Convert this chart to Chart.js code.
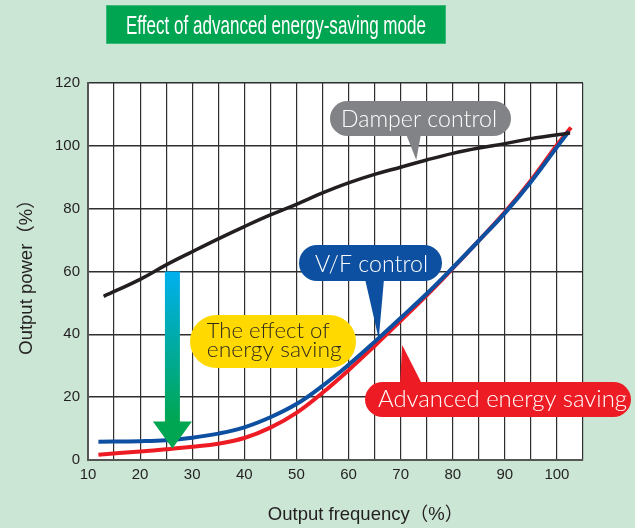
<!DOCTYPE html>
<html><head><meta charset="utf-8">
<script src="https://cdn.jsdelivr.net/npm/chart.js@4"></script>
<style>html,body{margin:0;padding:0;background:#cbe6d5;}#wrap{width:635px;height:528px;position:relative}</style>
</head><body><div id="wrap"><canvas id="c" width="635" height="528"></canvas></div>
<script>
// ---- data ----
const chartTitle = 'Effect of advanced energy-saving mode';
const xAxisTitle = 'Output frequency（%）';
const yAxisTitle = 'Output power（%）';

const damperX = [13, 20, 25, 30, 35, 40, 45, 50, 55, 60, 65, 70, 75, 80, 85, 90, 95, 102.5];
const damperY = [52.1, 57.5, 62.1, 66.3, 70.4, 74.3, 78, 81.4, 85, 88.2, 90.9, 93.2, 95.5, 97.6, 99.3, 100.7, 102.3, 104.1];

const vfX = [12, 20, 25, 30, 35, 40, 45, 50, 55, 60, 65, 70, 75, 80, 85, 90, 95, 100, 102.3];
const vfY = [5.8, 6.0, 6.3, 7.1, 8.4, 10.4, 13.6, 17.8, 23.6, 30.3, 37.6, 45.2, 52.9, 61.2, 69.8, 78.6, 88.5, 99.6, 104.6];

const aesX = [12, 20, 25, 30, 35, 40, 45, 50, 55, 60, 65, 70, 75, 80, 85, 90, 95, 100, 102.7];
const aesY = [1.7, 2.7, 3.4, 4.2, 5.2, 7.0, 10.3, 15, 21.4, 28.6, 36.3, 44.3, 52.4, 61, 69.8, 78.9, 89, 100.3, 105.8];

const xTickLabels = [10, 20, 30, 40, 50, 60, 70, 80, 90, 100];
const yTickLabels = [0, 20, 40, 60, 80, 100, 120];

const bubbleDamper = 'Damper control';
const bubbleVF = 'V/F control';
const bubbleEffect = ['The effect of', 'energy saving'];
const bubbleAES = 'Advanced energy saving';

// arrow (data space): x, from y, to y
const arrowX = 26.2, arrowFrom = 60, arrowTo = 3.7;

// ---- helpers ----
const pts = (xs, ys) => xs.map((x, i) => ({x, y: ys[i]}));
const FONT = '"Liberation Sans", "Noto Sans CJK JP", sans-serif';
const BFONT = 'Lato, "Open Sans", sans-serif';

function pill(ctx, x0, y0, x1, y1, color) {
  const r = (y1 - y0) / 2;
  ctx.beginPath();
  ctx.moveTo(x0 + r, y0);
  ctx.lineTo(x1 - r, y0);
  ctx.arc(x1 - r, y0 + r, r, -Math.PI / 2, Math.PI / 2);
  ctx.lineTo(x0 + r, y1);
  ctx.arc(x0 + r, y0 + r, r, Math.PI / 2, Math.PI * 1.5);
  ctx.closePath();
  ctx.fillStyle = color;
  ctx.fill();
}
function tri(ctx, a, b, c, color) {
  ctx.beginPath(); ctx.moveTo(a[0], a[1]); ctx.lineTo(b[0], b[1]); ctx.lineTo(c[0], c[1]); ctx.closePath();
  ctx.fillStyle = color; ctx.fill();
}
function fitText(ctx, text, font, color, xLeft, baseline, targetW) {
  ctx.save();
  ctx.font = font;
  const w = ctx.measureText(text).width;
  const s = targetW / w;
  ctx.translate(xLeft, baseline);
  ctx.scale(s, 1);
  ctx.fillStyle = color;
  ctx.textAlign = 'left';
  ctx.textBaseline = 'alphabetic';
  ctx.fillText(text, 0, 0);
  ctx.restore();
}

const bgPlugin = {
  id: 'bg',
  beforeDraw(chart) {
    const {ctx, chartArea: a} = chart;
    ctx.save();
    ctx.fillStyle = '#cbe6d5';
    ctx.fillRect(0, 0, chart.width, chart.height);
    ctx.fillStyle = '#ffffff';
    ctx.fillRect(a.left, a.top, a.right - a.left, a.bottom - a.top);
    ctx.restore();
  },
  afterDatasetsDraw(chart) {
    const {ctx, scales: {x, y}} = chart;
    ctx.save();
    // arrow
    const cx = x.getPixelForValue(arrowX);
    const top = y.getPixelForValue(arrowFrom);
    const tip = y.getPixelForValue(arrowTo);
    const headTop = tip - 27;
    const g = ctx.createLinearGradient(0, top, 0, headTop);
    g.addColorStop(0, '#00b0ef');
    g.addColorStop(1, '#00a651');
    ctx.fillStyle = g;
    ctx.fillRect(cx - 7.5, top, 15, headTop - top + 1);
    tri(ctx, [cx - 19.5, headTop], [cx + 19.5, headTop], [cx, tip], '#00a651');

    // Damper bubble
    const dTip = [x.getPixelForValue(73), y.getPixelForValue(95.5)];
    tri(ctx, [406, 134], [421, 134], dTip, '#818386');
    pill(ctx, 330, 101, 511, 136, '#818386');
    fitText(ctx, bubbleDamper, '300 24px ' + BFONT, '#ffffff', 341, 126.7, 156);

    // V/F bubble
    const vTip = [x.getPixelForValue(65.8), y.getPixelForValue(38.5)];
    tri(ctx, [365, 279], [384, 279], vTip, '#0d4fa1');
    pill(ctx, 299, 245, 442, 281, '#0d4fa1');
    fitText(ctx, bubbleVF, '300 23px ' + BFONT, '#ffffff', 315, 271.7, 113);

    // Effect bubble
    pill(ctx, 190, 315, 356, 368, '#ffd900');
    fitText(ctx, bubbleEffect[0], '300 21.5px ' + BFONT, '#2e2b1e', 206.7, 337.5, 123);
    fitText(ctx, bubbleEffect[1], '300 21.5px ' + BFONT, '#2e2b1e', 206.7, 357, 135);

    // Advanced bubble
    const aTip = [x.getPixelForValue(70.3), y.getPixelForValue(36.6)];
    tri(ctx, [400, 384], [422, 384], aTip, '#ed1c24');
    pill(ctx, 365, 382, 631, 417, '#ed1c24');
    fitText(ctx, bubbleAES, '300 23px ' + BFONT, '#ffffff', 378, 406.7, 249);

    ctx.restore();
  },
  afterDraw(chart) {
    const {ctx} = chart;
    ctx.save();
    // title box
    ctx.fillStyle = '#3cb878';
    ctx.fillRect(106, 5, 340, 39);
    ctx.fillStyle = '#00a551';
    ctx.fillRect(107, 6, 338, 37);
    fitText(ctx, chartTitle, '26px ' + FONT, '#ffffff', 126, 33.5, 300);
    // axis titles
    ctx.fillStyle = '#231f20';
    ctx.font = '18.5px ' + FONT;
    ctx.textAlign = 'center';
    ctx.textBaseline = 'alphabetic';
    ctx.fillText(xAxisTitle, 365.5, 520);
    ctx.translate(32, 272.5);
    ctx.rotate(-Math.PI / 2);
    ctx.fillText(yAxisTitle, 0, 0);
    ctx.restore();
  }
};

new Chart(document.getElementById('c'), {
  type: 'line',
  data: {
    datasets: [
      {label: 'Damper control', data: pts(damperX, damperY), borderColor: '#231f20', borderWidth: 3.5},
      {label: 'V/F control', data: pts(vfX, vfY), borderColor: '#0d4fa1', borderWidth: 4},
      {label: 'Advanced energy saving', data: pts(aesX, aesY), borderColor: '#ed1c24', borderWidth: 4}
    ]
  },
  options: {
    responsive: false,
    animation: false,
    devicePixelRatio: 1,
    layout: {padding: {left: 0, top: 83, right: 52, bottom: 0}},
    elements: {point: {radius: 0}, line: {tension: 0.4, borderCapStyle: 'butt', fill: false}},
    plugins: {legend: {display: false}, tooltip: {enabled: false}, title: {display: false}},
    scales: {
      x: {
        type: 'linear', min: 10, max: 105,
        afterFit(s) { s.height = 68; },
        afterBuildTicks(s) { s.ticks = []; for (let v = 10; v <= 105; v += 5) s.ticks.push({value: v}); },
        ticks: {
          autoSkip: false, maxRotation: 0, padding: 6,
          font: {family: FONT, size: 15}, color: '#231f20',
          callback: v => xTickLabels.includes(v) ? String(v) : ''
        },
        grid: {color: '#2f2f2f', lineWidth: 1.2, drawTicks: false},
        border: {display: true, color: '#555', width: 2}
      },
      y: {
        type: 'linear', min: 0, max: 120,
        afterFit(s) { s.width = 88; },
        afterBuildTicks(s) { s.ticks = yTickLabels.map(v => ({value: v})); },
        ticks: {
          padding: 8, font: {family: FONT, size: 15}, color: '#231f20',
          callback: v => String(v)
        },
        grid: {color: '#2f2f2f', lineWidth: 1.4, drawTicks: false},
        border: {display: true, color: '#555', width: 2}
      }
    }
  },
  plugins: [bgPlugin]
});
</script>
</body></html>
